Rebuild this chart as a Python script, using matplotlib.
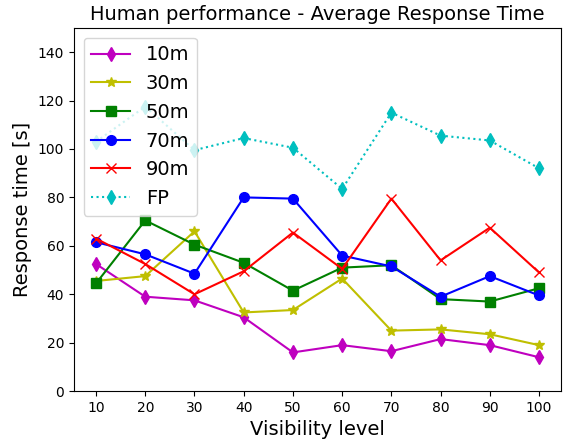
import matplotlib
matplotlib.use('Agg')
import matplotlib.pyplot as plt

visibility = [10, 20, 30, 40, 50, 60, 70, 80, 90, 100]
t_10m = [52.5, 39, 37.5, 30.5, 16, 19, 16.5, 21.5, 19, 14]
t_30m = [45.5, 47.5, 66, 32.5, 33.5, 46.5, 25, 25.5, 23.5, 19]
t_50m = [44.5, 70.5, 60.5, 53, 41.5, 51, 52, 38, 37, 42.5]
t_70m = [61.5, 56.5, 48.5, 80, 79.5, 56, 51.5, 39, 47.5, 39.5]
t_90m = [63, 52.5, 40, 49.5, 65.5, 50.5, 79.5, 54, 67.5, 49]
t_fp = [103, 117.5, 99.5, 104.5, 100.5, 83.5, 115, 105.5, 103.5, 92]

fig = plt.figure(figsize=(5.64, 4.42), dpi=100)
ax = fig.add_axes([0.131, 0.115, 0.864, 0.822])

ms = 7
ax.plot(visibility, t_10m, 'm-d', markersize=ms, label='10m')
ax.plot(visibility, t_30m, 'y-*', markersize=ms, label='30m')
ax.plot(visibility, t_50m, 'g-s', markersize=ms, label='50m')
ax.plot(visibility, t_70m, 'b-o', markersize=ms, label='70m')
ax.plot(visibility, t_90m, 'r-x', markersize=ms, label='90m')
ax.plot(visibility, t_fp, 'c:d', markersize=ms, label='FP')

ax.set_ylim(0, 150)
ax.set_xticks(visibility)
ax.set_yticks(range(0, 141, 20))
ax.set_xlabel('Visibility level', fontsize=14)
ax.set_ylabel('Response time [s]', fontsize=14)
ax.set_title('Human performance - Average Response Time', fontsize=14)
ax.legend(loc='upper left', fontsize=14)

fig.savefig('out.png', dpi=100)
